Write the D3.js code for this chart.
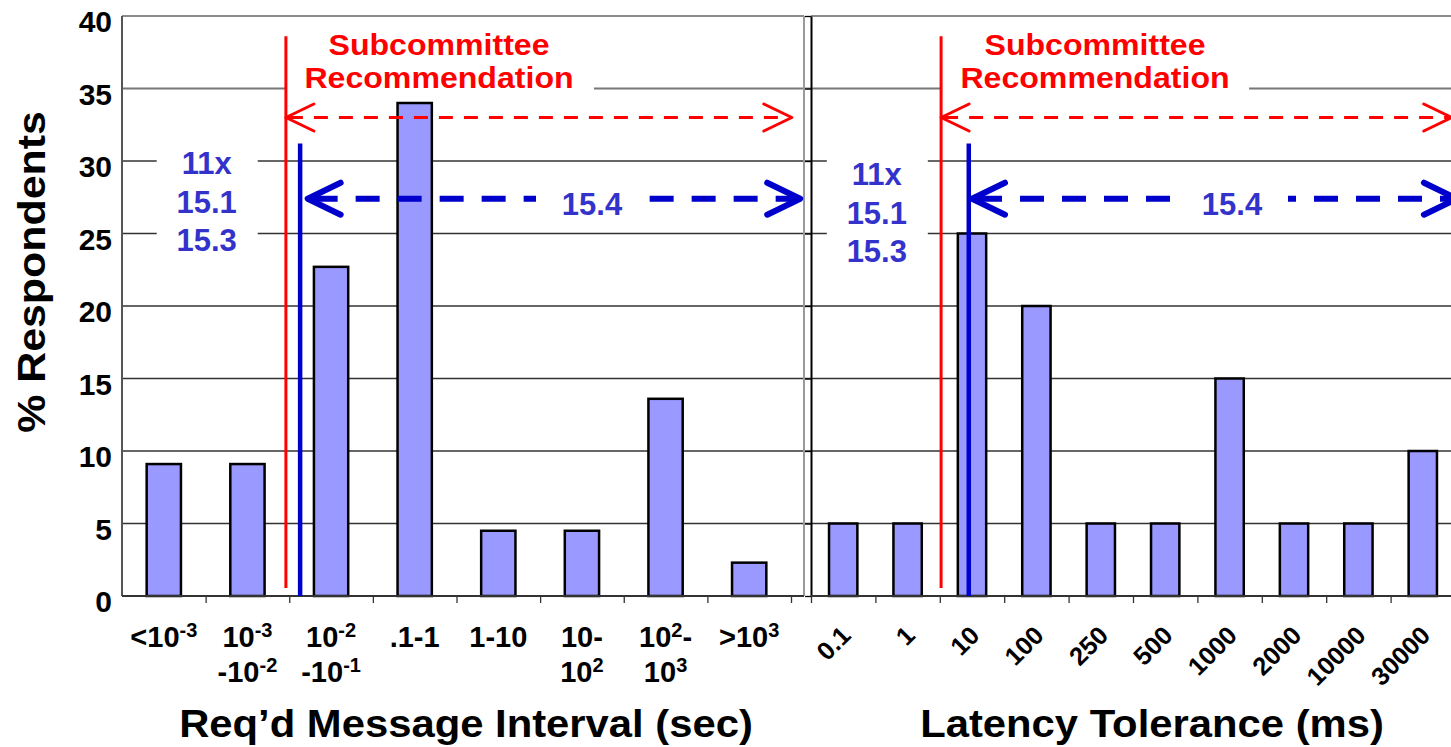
<!DOCTYPE html>
<html>
<head>
<meta charset="utf-8">
<script src="https://cdn.jsdelivr.net/npm/d3@7"></script>
<style>
  body { margin: 0; background: #fff; }
  text { font-family: "Liberation Sans", Arial, sans-serif; font-weight: bold; }
</style>
</head>
<body>
<script>
const W = 1451, H = 747;

// data (left: 44 respondents, right: 20)
const intervalCats = ["<10^{-3}", "10^{-3}|-10^{-2}", "10^{-2}|-10^{-1}", ".1-1", "1-10", "10-|10^{2}", "10^{2}-|10^{3}", ">10^{3}"];
const intervalVals = [9.1, 9.1, 22.7, 34.0, 4.5, 4.5, 13.6, 2.3];
const latencyCats = ["0.1", "1", "10", "100", "250", "500", "1000", "2000", "10000", "30000"];
const latencyVals = [5, 5, 25, 20, 5, 5, 15, 5, 5, 10];
const yTicks = [0, 5, 10, 15, 20, 25, 30, 35, 40];

const recText = ["Subcommittee", "Recommendation"];
const versionText = ["11x", "15.1", "15.3"];
const rangeText = "15.4";

const svg = d3.select("body").append("svg")
    .attr("width", W)
    .attr("height", H)
    .style("background", "#fff");

const y = d3.scaleLinear().domain([0, 40]).range([596, 16]);

// layout of the two panels (category-unit positions for the markers)
const panels = [
  { cats: intervalCats, vals: intervalVals, x0: 122, x1: 791, edge: 804, pad: 0.59,
    title: "Req\u2019d Message Interval (sec)", titleX: 466, rotated: false,
    rec: 1.96, fit: 2.13, recEnd: 8.01, fitStart: 2.22, fitEnd: 8.11,
    verX: 206.7, verY: 174, recX: 439, rangeX: 592 },
  { cats: latencyCats, vals: latencyVals, x0: 811, x1: 1455, edge: W, pad: 0.56,
    title: "Latency Tolerance (ms)", titleX: 1152, rotated: true,
    rec: 2.02, fit: 2.45, recEnd: 9.95, fitStart: 2.5, fitEnd: 10.03,
    verX: 876.8, verY: 185, recX: 1095, rangeX: 1232 }
];

// gridlines run across both panels
svg.append("g").selectAll("line")
  .data(yTicks.filter(d => d > 0 && d < 40))
  .join("line")
    .attr("x1", 122).attr("x2", W)
    .attr("y1", d => y(d)).attr("y2", d => y(d))
    .attr("stroke", d => d === 35 ? "#777" : "#333")
    .attr("stroke-width", d => d === 35 ? 2 : 1.3);

function arrow(g, xa, xb, yv, color, w, dash, hl, hh) {
  g.append("line")
    .attr("x1", xa + w).attr("x2", xb - w)
    .attr("y1", yv).attr("y2", yv)
    .attr("stroke", color).attr("stroke-width", w)
    .attr("stroke-dasharray", dash);
  const head = d3.line();
  g.append("path")
    .attr("d", head([[xa + hl, yv - hh], [xa, yv], [xa + hl, yv + hh]]))
    .attr("fill", "none").attr("stroke", color).attr("stroke-width", w)
    .attr("stroke-linecap", "round").attr("stroke-linejoin", "round");
  g.append("path")
    .attr("d", head([[xb - hl, yv - hh], [xb, yv], [xb - hl, yv + hh]]))
    .attr("fill", "none").attr("stroke", color).attr("stroke-width", w)
    .attr("stroke-linecap", "round").attr("stroke-linejoin", "round");
}

function richLine(t, str) {
  let shift = 0;
  str.split(/\^\{([^}]*)\}/).forEach((p, i) => {
    if (!p) return;
    const sup = i % 2 === 1;
    const target = sup ? -10 : 0;
    t.append("tspan")
      .attr("dy", target - shift)
      .attr("font-size", sup ? 20 : 29)
      .text(p);
    shift = target;
  });
}

panels.forEach((p, k) => {
  const n = p.cats.length;
  const g = svg.append("g");
  const xb = d3.scaleBand().domain(p.cats).range([p.x0, p.x1])
      .paddingInner(p.pad).paddingOuter(p.pad / 2);
  const xi = d3.scaleLinear().domain([0, n]).range([p.x0, p.x1]);

  // white boxes behind the annotation texts
  g.append("rect")
    .attr("x", xi(p.rec) + 1).attr("y", 26)
    .attr("width", 307).attr("height", 70)
    .attr("fill", "#fff");
  g.append("rect")
    .attr("x", p.verX - 50).attr("y", 146)
    .attr("width", 101).attr("height", 116)
    .attr("fill", "#fff");

  // frame
  g.append("line")
    .attr("x1", p.x0).attr("x2", p.edge).attr("y1", y(40)).attr("y2", y(40))
    .attr("stroke", "#8c8c8c").attr("stroke-width", 2);
  if (k === 0) {
    g.append("line")
      .attr("x1", p.edge).attr("x2", p.edge).attr("y1", y(40)).attr("y2", y(0))
      .attr("stroke", "#9a9a9a").attr("stroke-width", 2);
    g.append("line")
      .attr("x1", p.x0).attr("x2", p.x0).attr("y1", y(40)).attr("y2", y(0))
      .attr("stroke", "#555").attr("stroke-width", 2);
    const ya = g.append("g")
      .attr("transform", `translate(${p.x0},0)`)
      .call(d3.axisLeft(y).tickValues(yTicks).tickSize(0).tickPadding(10));
    ya.select(".domain").remove();
    ya.selectAll("text")
      .attr("dy", "0.52em")
      .style("font-size", "30px")
      .attr("fill", "#000");
  } else {
    const ya = g.append("g")
      .attr("transform", `translate(${p.x0},0)`)
      .call(d3.axisLeft(y).tickValues(yTicks).tickSize(6).tickSizeOuter(0).tickFormat(""));
    ya.select(".domain").attr("stroke", "#000").attr("stroke-width", 2);
    ya.selectAll(".tick line").attr("stroke", "#000").attr("stroke-width", 1.3);
  }

  // bars
  g.append("g").selectAll("rect")
    .data(p.vals)
    .join("rect")
      .attr("x", (d, i) => xb(p.cats[i]))
      .attr("y", d => y(d))
      .attr("width", xb.bandwidth())
      .attr("height", d => y(0) - y(d))
      .attr("fill", "#9999ff")
      .attr("stroke", "#000")
      .attr("stroke-width", 2.5);

  // x axis
  g.append("line")
    .attr("x1", p.x0).attr("x2", p.edge).attr("y1", y(0)).attr("y2", y(0))
    .attr("stroke", "#333").attr("stroke-width", 2);
  const xa = g.append("g")
    .attr("transform", `translate(0,${y(0)})`)
    .call(d3.axisBottom(xi).tickValues(d3.range(k === 0 ? 1 : 0, n + 1))
      .tickSize(7).tickSizeOuter(0).tickFormat(""));
  xa.select(".domain").remove();
  xa.selectAll(".tick line").attr("stroke", "#333").attr("stroke-width", 1.3);

  // category labels
  if (!p.rotated) {
    p.cats.forEach((c, i) => {
      c.split("|").forEach((line, j) => {
        const t = g.append("text")
          .attr("x", xi(i + 0.5))
          .attr("y", 646.5 + j * 35)
          .attr("text-anchor", "middle")
          .attr("font-size", 29);
        richLine(t, line);
      });
    });
  } else {
    g.append("g").selectAll("text")
      .data(p.cats)
      .join("text")
        .attr("transform", (d, i) => `translate(${xi(i + 0.5) + 9},637) rotate(-45)`)
        .attr("text-anchor", "end")
        .attr("font-size", 25.5)
        .text(d => d);
  }

  // axis title
  g.append("text")
    .attr("transform", `translate(${p.titleX},737) scale(1.1,1)`)
    .attr("text-anchor", "middle")
    .attr("font-size", 38)
    .text(p.title);

  // recommendation marker (red) and release marker (blue)
  g.append("line")
    .attr("x1", xi(p.rec)).attr("x2", xi(p.rec))
    .attr("y1", y(38.6)).attr("y2", y(0.55))
    .attr("stroke", "#ff0000").attr("stroke-width", 3);
  g.append("line")
    .attr("x1", xi(p.fit)).attr("x2", xi(p.fit))
    .attr("y1", y(31.2)).attr("y2", y(0))
    .attr("stroke", "#0000cc").attr("stroke-width", 4.5);

  arrow(g, xi(p.rec), xi(p.recEnd), y(33), "#ff0000", 3, "14 11", 28, 13.5);
  arrow(g, xi(p.fitStart), xi(p.fitEnd), y(27.4), "#0000cc", 6, "24 18", 33, 16);

  g.append("rect")
    .attr("x", p.rangeX - 56).attr("y", 185)
    .attr("width", 112).attr("height", 30)
    .attr("fill", "#fff");
  g.append("text")
    .attr("x", p.rangeX).attr("y", 215)
    .attr("text-anchor", "middle")
    .attr("font-size", 31)
    .attr("fill", "#3333cc")
    .text(rangeText);

  recText.forEach((s, j) => {
    g.append("text")
      .attr("transform", `translate(${p.recX},${54.5 + j * 33.5}) scale(1.07,1)`)
      .attr("text-anchor", "middle")
      .attr("font-size", 30)
      .attr("fill", "#ff0000")
      .text(s);
  });

  versionText.forEach((s, j) => {
    g.append("text")
      .attr("x", p.verX).attr("y", p.verY + j * 38.5)
      .attr("text-anchor", "middle")
      .attr("font-size", 31)
      .attr("fill", "#3333cc")
      .text(s);
  });
});

// y title
svg.append("text")
  .attr("transform", "translate(45,272) rotate(-90) scale(1.1,1)")
  .attr("text-anchor", "middle")
  .attr("font-size", 39)
  .text("% Respondents");
</script>
</body>
</html>
